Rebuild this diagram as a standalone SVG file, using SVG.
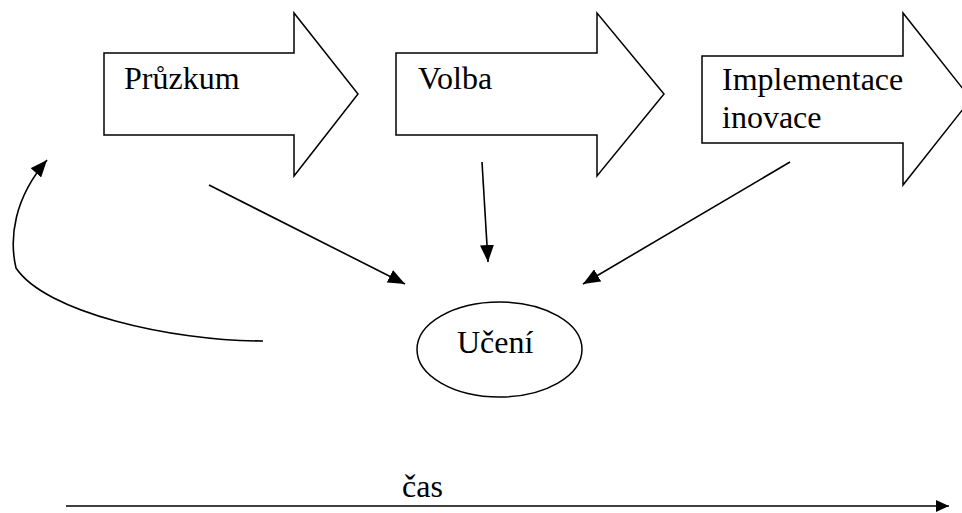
<svg xmlns="http://www.w3.org/2000/svg" width="962" height="513" viewBox="0 0 962 513">
  <defs>
    <marker id="head" markerUnits="userSpaceOnUse" markerWidth="18" markerHeight="14" refX="17" refY="7" orient="auto">
      <path d="M0,0 L17,7 L0,14 z" fill="#000"/>
    </marker>
    <marker id="headSmall" markerUnits="userSpaceOnUse" markerWidth="14" markerHeight="12" refX="13" refY="6" orient="auto">
      <path d="M0,0 L13,6 L0,12 z" fill="#000"/>
    </marker>
    <style>
      .step { fill: #fff; stroke: #000; stroke-width: 1.5; stroke-linejoin: miter; }
      .label { font-family: "Liberation Serif", "Times New Roman", serif; font-size: 32px; fill: #000; }
      .link { fill: none; stroke: #000; stroke-width: 1.6; }
      .node { fill: #fff; stroke: #000; stroke-width: 1.5; }
    </style>
  </defs>
  <rect width="962" height="513" fill="#fff"/>

  <!-- process steps as block arrows -->
  <g id="pruzkum">
    <polygon class="step" points="104,53 294,53 294,13 358,94 294,176 294,135 104,135"/>
    <text class="label" x="124" y="89">Průzkum</text>
  </g>
  <g id="volba">
    <polygon class="step" points="396,53 597,53 597,13 664,94 597,176 597,135 396,135"/>
    <text class="label" x="418" y="89">Volba</text>
  </g>
  <g id="implementace">
    <polygon class="step" points="702,56 903,56 903,13 971,99 903,185 903,143 702,143"/>
    <text class="label" x="722" y="90">Implementace</text>
    <text class="label" x="722" y="128">inovace</text>
  </g>

  <!-- learning node -->
  <g id="uceni">
    <ellipse class="node" cx="499.5" cy="349.5" rx="82.5" ry="47.5"/>
    <text class="label" x="457" y="353">Učení</text>
  </g>

  <!-- time axis -->
  <g id="cas">
    <text class="label" x="402" y="497">čas</text>
  </g>

  <!-- connectors -->
  <g id="connectors">
    <line class="link" x1="209" y1="185" x2="405" y2="284" marker-end="url(#head)"/>
    <line class="link" x1="482" y1="162" x2="488" y2="262" marker-end="url(#head)"/>
    <line class="link" x1="790" y1="162" x2="583" y2="284" marker-end="url(#head)"/>
    <path class="link" d="M263,341 C170,341 45,312 16,268 C9,238 14,198 47,160" marker-end="url(#head)"/>
    <line class="link" x1="66" y1="506" x2="949" y2="506" marker-end="url(#headSmall)"/>
  </g>
</svg>
